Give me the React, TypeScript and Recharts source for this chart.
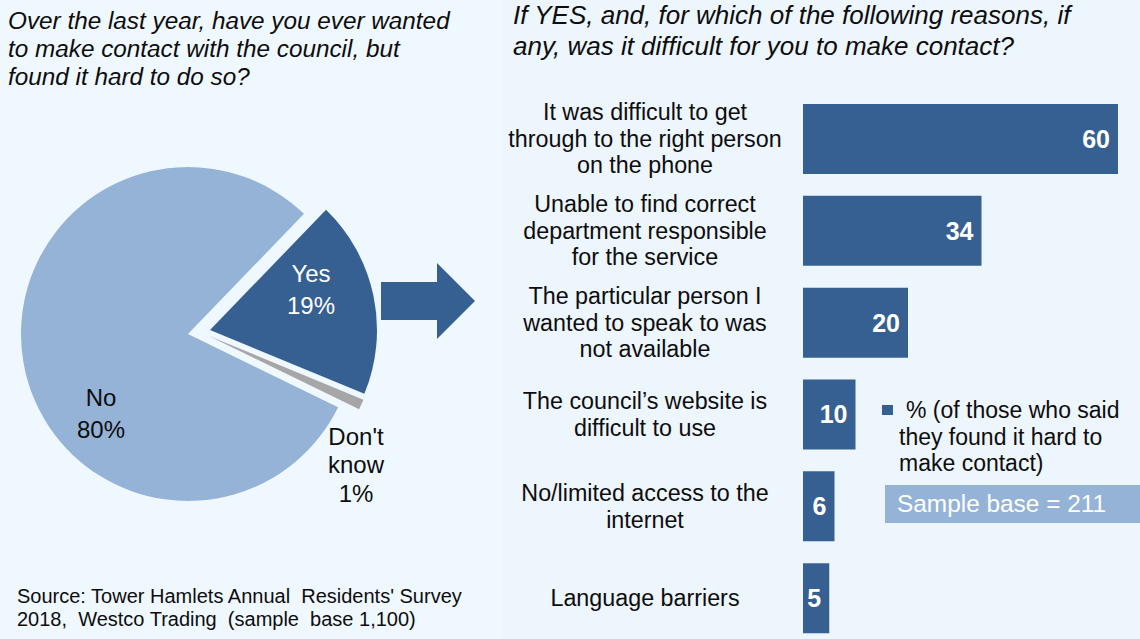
import React from 'react';
import { PieChart, Pie, Cell, BarChart, Bar, XAxis, YAxis, LabelList } from 'recharts';

// pie: share of residents who found it hard to contact the council
const pieNames = ['Yes', "Don't know", 'No'];
const pieValues = [19, 1, 80];
const pieLabelLines = [['Yes', '19%'], ["Don't", 'know', '1%'], ['No', '80%']];

// bar: reasons it was difficult (% of those who said yes)
const reasons = [
  'It was difficult to get\nthrough to the right person\non the phone',
  'Unable to find correct\ndepartment responsible\nfor the service',
  'The particular person I\nwanted to speak to was\nnot available',
  "The council\u2019s website is\ndifficult to use",
  'No/limited access to the\ninternet',
  'Language barriers',
];
const reasonValues = [60, 34, 20, 10, 6, 5];

const DARK = '#376092';
const LIGHT = '#95b3d7';
const GREY = '#a6a6a6';
const TEXT = '#0d0d0d';
const FONT = '"Liberation Sans", Arial, sans-serif';

const pieData = pieNames.map((name, i) => ({ name, value: pieValues[i] }));
const barData = reasons.map((reason, i) => ({ reason, value: reasonValues[i] }));

// each pie layer shows one exploded slice, the others stay transparent
const layers = [
  { show: 2, cx: 183, cy: 329, fill: LIGHT },
  { show: 0, cx: 205, cy: 325, fill: DARK },
  { show: 1, cx: 204, cy: 331, fill: GREY },
];

// label offsets from each layer's centre
const labelOffset = [
  { dx: 101, dy: -57, gap: 32, color: '#ffffff' },
  { dx: 147, dy: 100, gap: 28.7, color: TEXT },
  { dx: -87, dy: 63, gap: 32, color: TEXT },
];

const makePieLabel = (show: number) => (props: any) => {
  if (props.index !== show) return null;
  const o = labelOffset[show];
  return (
    <g>
      {pieLabelLines[show].map((line, k) => (
        <text
          key={k}
          x={props.cx + o.dx}
          y={props.cy + o.dy + k * o.gap}
          textAnchor="middle"
          dominantBaseline="central"
          fill={o.color}
          fontSize={24}
          fontFamily={FONT}
        >
          {line}
        </text>
      ))}
    </g>
  );
};

const ReasonTick = (props: any) => {
  const lines = String(props.payload.value).split('\n');
  const lh = 26.5;
  const start = props.y - ((lines.length - 1) * lh) / 2;
  return (
    <g>
      {lines.map((line, k) => (
        <text
          key={k}
          x={143}
          y={start + k * lh}
          textAnchor="middle"
          dominantBaseline="central"
          fill={TEXT}
          fontSize={23.3}
          fontFamily={FONT}
        >
          {line}
        </text>
      ))}
    </g>
  );
};

const titleLine = (top: number): React.CSSProperties => ({
  position: 'absolute',
  left: 513,
  top,
  fontSize: 26,
  fontStyle: 'italic',
  lineHeight: '29px',
  color: TEXT,
  whiteSpace: 'nowrap',
});

export default function App() {
  return (
    <div
      style={{
        position: 'fixed',
        left: 0,
        top: 0,
        width: 1140,
        height: 639,
        overflow: 'hidden',
        background: '#f0f8ff',
        fontFamily: FONT,
      }}
    >
      <div style={{ position: 'absolute', left: 502, top: 0, width: 638, height: 639, background: '#edf5fd' }} />

      <div
        style={{
          position: 'absolute',
          left: 8,
          top: 7,
          width: 490,
          fontSize: 24.3,
          fontStyle: 'italic',
          lineHeight: '28px',
          color: TEXT,
          whiteSpace: 'nowrap',
        }}
      >
        Over the last year, have you ever wanted
        <br />
        to make contact with the council, but
        <br />
        found it hard to do so?
      </div>

      <div style={titleLine(1)}>If YES, and, for which of the following reasons, if</div>
      <div style={titleLine(31.5)}>any, was it difficult for you to make contact?</div>

      <div style={{ position: 'absolute', left: 0, top: 0 }}>
        <PieChart width={500} height={560}>
          {layers.map((l) => (
            <Pie
              key={l.show}
              data={pieData}
              dataKey="value"
              nameKey="name"
              cx={l.cx}
              cy={l.cy}
              outerRadius={167}
              startAngle={46}
              endAngle={-314}
              stroke="none"
              labelLine={false}
              label={makePieLabel(l.show)}
              isAnimationActive={false}
            >
              {pieData.map((d, i) => (
                <Cell key={d.name} fill={i === l.show ? l.fill : 'transparent'} />
              ))}
            </Pie>
          ))}
        </PieChart>
      </div>

      <svg style={{ position: 'absolute', left: 0, top: 0 }} width={500} height={639}>
        <polygon points="381,282 437,282 437,263 475,301 437,339 437,320 381,320" fill={DARK} />
      </svg>

      <div style={{ position: 'absolute', left: 502, top: 0 }}>
        <BarChart
          width={638}
          height={660}
          data={barData}
          layout="vertical"
          margin={{ top: 93, right: 22, bottom: 16, left: 0 }}
          barSize={70}
        >
          <XAxis type="number" domain={[0, 60]} hide />
          <YAxis
            type="category"
            dataKey="reason"
            width={301}
            axisLine={false}
            tickLine={false}
            tick={<ReasonTick />}
            interval={0}
          />
          <Bar dataKey="value" fill={DARK} isAnimationActive={false}>
            <LabelList
              dataKey="value"
              position="insideRight"
              offset={8}
              fill="#ffffff"
              fontSize={25}
              fontWeight="bold"
              fontFamily={FONT}
            />
          </Bar>
        </BarChart>
      </div>

      {/* legend and sample base note */}
      <div style={{ position: 'absolute', left: 882, top: 397, color: TEXT, fontSize: 23, lineHeight: '26.5px' }}>
        <span style={{ position: 'absolute', left: 0, top: 8, width: 11, height: 10, background: DARK }} />
        <div style={{ paddingLeft: 17, whiteSpace: 'nowrap' }}>
          <span style={{ marginLeft: 7 }}>% (of those who said</span>
          <br />
          they found it hard to
          <br />
          make contact)
        </div>
      </div>
      <div
        style={{
          position: 'absolute',
          left: 885,
          top: 485,
          width: 255,
          height: 38,
          background: LIGHT,
          color: '#ffffff',
          fontSize: 24.4,
          lineHeight: '38px',
          paddingLeft: 12,
          boxSizing: 'border-box',
          whiteSpace: 'nowrap',
        }}
      >
        Sample base = 211
      </div>

      <div
        style={{
          position: 'absolute',
          left: 17,
          top: 585,
          fontSize: 20,
          lineHeight: '23px',
          color: TEXT,
          whiteSpace: 'pre',
        }}
      >
        {"Source: Tower Hamlets Annual  Residents' Survey\n2018,  Westco Trading  (sample  base 1,100)"}
      </div>
    </div>
  );
}
